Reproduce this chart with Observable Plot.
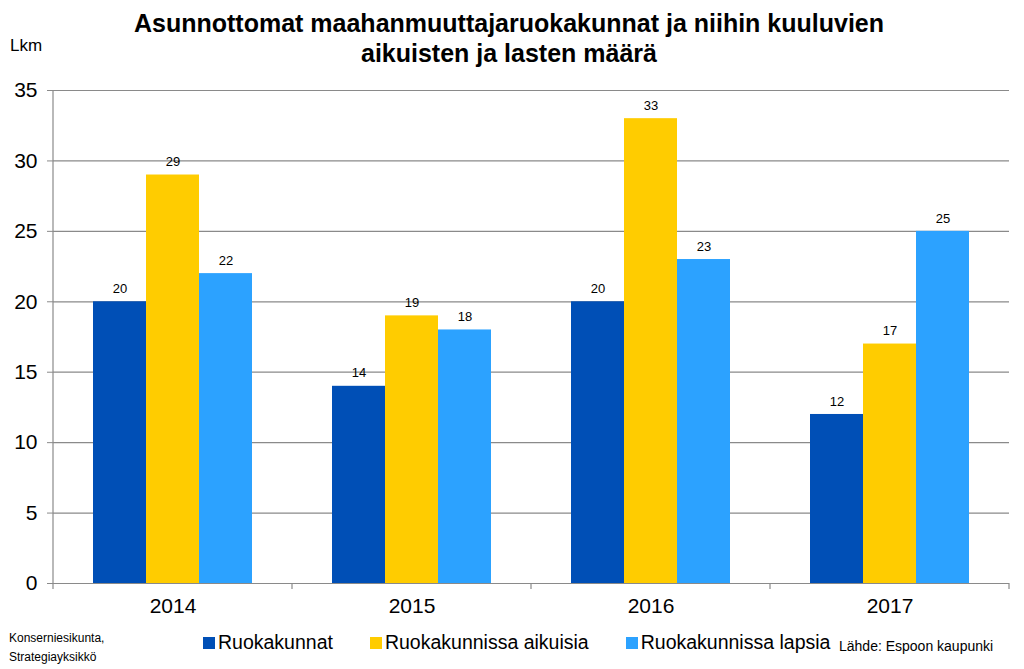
<!DOCTYPE html>
<html>
<head>
<meta charset="utf-8">
<script src="https://cdn.jsdelivr.net/npm/d3@7"></script>
<script src="https://cdn.jsdelivr.net/npm/@observablehq/plot@0.6"></script>
<style>
  html, body { margin: 0; padding: 0; background: #fff; }
  #wrap { position: relative; width: 1024px; height: 669px; font-family: "Liberation Sans", Arial, sans-serif; color: #000; overflow: hidden; }
  #title { position: absolute; left: 0; width: 1024px; top: 8px; text-align: center; font-weight: bold; font-size: 25px; line-height: 30px; }
  #title span { display: block; position: relative; left: -3px; }
  #unit { position: absolute; left: 10px; top: 36px; font-size: 17px; }
  #chart { position: absolute; left: 0; top: 70px; }
  #legend { position: absolute; top: 631px; left: 203px; font-size: 19.5px; display: flex; align-items: center; white-space: nowrap; }
  #legend .item { display: flex; align-items: center; margin-right: 37px; }
  #legend .sw { width: 12px; height: 12px; margin-right: 3px; }
  #foot-left { position: absolute; left: 9px; top: 629px; font-size: 12px; line-height: 19px; }
  #foot-right { position: absolute; left: 839px; top: 638px; font-size: 14px; }
</style>
</head>
<body>
<div id="wrap">
  <div id="title"><span>Asunnottomat maahanmuuttajaruokakunnat ja niihin kuuluvien</span><span>aikuisten ja lasten määrä</span></div>
  <div id="unit">Lkm</div>
  <div id="chart"></div>
  <div id="legend"></div>
  <div id="foot-left">Konserniesikunta,<br>Strategiayksikkö</div>
  <div id="foot-right">Lähde: Espoon kaupunki</div>
</div>
<script>
const years = ["2014", "2015", "2016", "2017"];
const series = ["Ruokakunnat", "Ruokakunnissa aikuisia", "Ruokakunnissa lapsia"];
const households = [20, 14, 20, 12];
const adults = [29, 19, 33, 17];
const children = [22, 18, 23, 25];
const yTicks = [0, 5, 10, 15, 20, 25, 30, 35];
const colors = ["#004FB6", "#FFCC00", "#2CA2FF"];

const seriesValues = [households, adults, children];
const data = years.flatMap((year, i) =>
  series.map((s, j) => ({ year, series: s, value: seriesValues[j][i] }))
);

const grid = "#8a8a8a";

const plot = Plot.plot({
  width: 1024,
  height: 560,
  marginLeft: 52,
  marginRight: 14,
  marginTop: 20,
  marginBottom: 47,
  style: { fontFamily: "'Liberation Sans', Arial, sans-serif", background: "#fff", color: "#000" },
  fx: { domain: years, padding: 0, label: null, axis: null },
  x: { domain: series, paddingInner: 0, paddingOuter: 0.75, axis: null },
  y: { domain: [0, 35], label: null },
  color: { domain: series, range: colors },
  marks: [
    Plot.ruleY(yTicks, { stroke: grid, strokeWidth: 1.2 }),
    Plot.barY(data, { fx: "year", x: "series", y: "value", fill: "series" }),
    Plot.text(data, { fx: "year", x: "series", y: "value", text: d => String(d.value), dy: -13, fontSize: 13, fill: "#000" }),
    Plot.axisY({ ticks: yTicks, tickSize: 6, tickPadding: 10, fontSize: 21, stroke: grid, label: null }),
    Plot.axisFx({ anchor: "bottom", tickSize: 0, tickPadding: 15, fontSize: 21, label: null })
  ]
});

document.getElementById("chart").appendChild(plot);

// y axis line and category boundary ticks from the plot's own scales
const yS = Plot.scale({ y: plot.scale("y") });
const fxS = Plot.scale({ fx: plot.scale("fx") });
const svg = d3.select(plot);
const x0 = fxS.apply(years[0]);
const bw = fxS.bandwidth;
const y0 = yS.apply(0), y35 = yS.apply(35);
svg.append("line").attr("x1", x0).attr("x2", x0).attr("y1", y35).attr("y2", y0)
  .attr("stroke", grid).attr("stroke-width", 1.2);
const bounds = years.map(y => fxS.apply(y)).concat([fxS.apply(years[years.length - 1]) + bw]);
svg.selectAll("line.bt").data(bounds).join("line").attr("class", "bt")
  .attr("x1", d => d).attr("x2", d => d).attr("y1", y0).attr("y2", y0 + 6)
  .attr("stroke", grid).attr("stroke-width", 1.2);

// legend
const legend = d3.select("#legend");
series.forEach((s, i) => {
  const item = legend.append("div").attr("class", "item");
  item.append("div").attr("class", "sw").style("background", colors[i]);
  item.append("span").text(s);
});
</script>
</body>
</html>
